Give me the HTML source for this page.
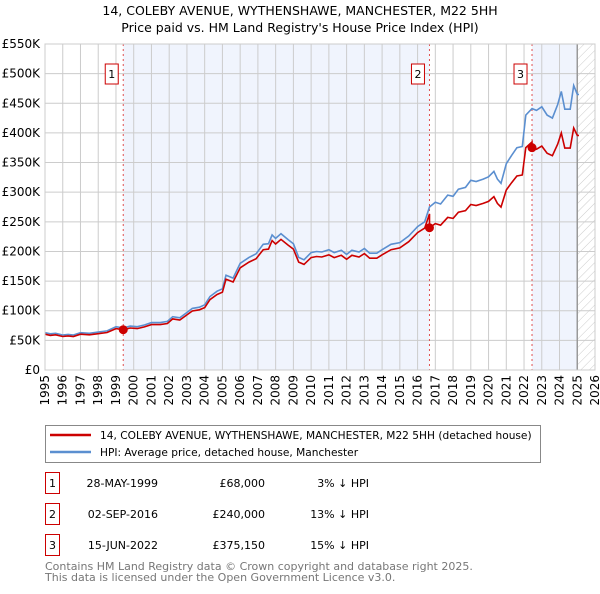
<!DOCTYPE html>
<html><head><meta charset="utf-8"><style>
body{margin:0;background:#fff;width:600px;height:590px;overflow:hidden;font-family:"DejaVu Sans","Liberation Sans",sans-serif}
svg text{font-family:"DejaVu Sans","Liberation Sans",sans-serif}
</style></head><body>
<svg id="chart" width="600" height="590">
<defs><pattern id="hatch" width="6" height="6" patternUnits="userSpaceOnUse" patternTransform="rotate(45)"><line x1="0" y1="0" x2="0" y2="6" stroke="#ccc" stroke-width="1"/></pattern></defs>
<text x="300" y="15" text-anchor="middle" font-size="12.5">14, COLEBY AVENUE, WYTHENSHAWE, MANCHESTER, M22 5HH</text>
<text x="300" y="32" text-anchor="middle" font-size="12.5">Price paid vs. HM Land Registry's House Price Index (HPI)</text>
<g id="plot"></g>
<g>
<rect x="45.5" y="425.5" width="495" height="37" fill="#fff" stroke="#888"/>
<line x1="50" y1="435" x2="91" y2="435" stroke="#cc0000" stroke-width="2.5"/>
<text x="100" y="439" font-size="10.6">14, COLEBY AVENUE, WYTHENSHAWE, MANCHESTER, M22 5HH (detached house)</text>
<line x1="50" y1="452" x2="91" y2="452" stroke="#5b8fd0" stroke-width="2.5"/>
<text x="100" y="456" font-size="10.6">HPI: Average price, detached house, Manchester</text>
</g>
<g id="table"></g>
<text x="45" y="570" font-size="11" fill="#777">Contains HM Land Registry data © Crown copyright and database right 2025.</text>
<text x="45" y="581" font-size="11" fill="#777">This data is licensed under the Open Government Licence v3.0.</text>
</svg>
<script>
const yTicks=[0,50,100,150,200,250,300,350,400,450,500,550];
const yTickLabels=["£0","£50K","£100K","£150K","£200K","£250K","£300K","£350K","£400K","£450K","£500K","£550K"];
const years=[1995,1996,1997,1998,1999,2000,2001,2002,2003,2004,2005,2006,2007,2008,2009,2010,2011,2012,2013,2014,2015,2016,2017,2018,2019,2020,2021,2022,2023,2024,2025,2026];
const hpiT=[1995,1995.3,1995.6,1996,1996.3,1996.6,1997,1997.5,1998,1998.5,1999,1999.41,1999.8,2000.2,2000.6,2001,2001.5,2001.9,2002.2,2002.6,2003,2003.3,2003.7,2004,2004.3,2004.7,2005,2005.2,2005.6,2006,2006.5,2006.9,2007.3,2007.6,2007.8,2008,2008.3,2008.7,2009,2009.3,2009.6,2010,2010.3,2010.6,2011,2011.3,2011.7,2012,2012.3,2012.7,2013,2013.3,2013.7,2014,2014.5,2015,2015.5,2016,2016.4,2016.67,2017,2017.3,2017.7,2018,2018.3,2018.7,2019,2019.3,2019.7,2020,2020.3,2020.5,2020.7,2021,2021.3,2021.6,2021.9,2022.1,2022.45,2022.7,2023,2023.3,2023.6,2023.9,2024.1,2024.3,2024.6,2024.8,2025,2025.1];
const hpiV=[63,61,62,59,60,59,63,62,64,66,73,71,74,73,76,80,80,82,90,88,97,104,106,110,124,133,137,160,155,180,190,196,212,213,228,222,230,220,213,190,186,198,200,199,203,198,202,195,202,199,205,197,197,203,212,215,226,242,250,275,283,280,295,293,305,308,320,318,322,326,335,322,315,348,362,375,377,430,441,438,444,430,425,448,470,440,440,480,465,465];
const saleT=[1999.41,2016.67,2022.45];
const saleP=[68,240,375.15];
const saleLabels=["1","2","3"];
const saleDates=["28-MAY-1999","02-SEP-2016","15-JUN-2022"];
const salePrices=["£68,000","£240,000","£375,150"];
const salePct=["3% ↓ HPI","13% ↓ HPI","15% ↓ HPI"];
const X0=45,X1=595,Y0=370,Y1=44;
const xs=t=>X0+(t-1995)/(2026-1995)*(X1-X0);
const ys=v=>Y0-v/550*(Y0-Y1);
const NS="http://www.w3.org/2000/svg";
const g=document.getElementById('plot');
function mk(tag,attrs,parent){const e=document.createElementNS(NS,tag);for(const k in attrs)e.setAttribute(k,attrs[k]);(parent||g).appendChild(e);return e;}
function hpiAt(t){for(let i=0;i<hpiT.length-1;i++){if(t>=hpiT[i]&&t<=hpiT[i+1]){return hpiV[i]+(hpiV[i+1]-hpiV[i])*(t-hpiT[i])/(hpiT[i+1]-hpiT[i]);}}return hpiV[hpiV.length-1];}
let r=mk('rect',{x:xs(saleT[0]),y:Y1,width:xs(saleT[1])-xs(saleT[0]),height:Y0-Y1,fill:'#f0f4fd'});


r=mk('rect',{x:xs(saleT[2]),y:Y1,width:xs(2025)-xs(saleT[2]),height:Y0-Y1,fill:'#f0f4fd'});


r=mk('rect',{x:xs(2025),y:Y1,width:X1-xs(2025),height:Y0-Y1,fill:'url(#hatch)'});


yTicks.forEach((v,i)=>{
 const l=mk('line',{x1:X0,x2:X1,y1:ys(v),y2:ys(v),stroke:'#ccc','stroke-width':1});
 
 
 const t=mk('text',{x:X0-5,y:ys(v)+4,'text-anchor':'end','font-size':12});
 t.textContent=yTickLabels[i];
 
 
});
years.forEach(y=>{
 const l=mk('line',{x1:xs(y),x2:xs(y),y1:Y1,y2:Y0,stroke:'#ccc','stroke-width':1});
 
 
 const t=mk('text',{x:0,y:0,'text-anchor':'end','font-size':12,transform:`translate(${xs(y)+4},375) rotate(-90)`});
 t.textContent=y;
 
 
});
let b=mk('line',{x1:xs(2025),x2:xs(2025),y1:Y1,y2:Y0,stroke:'#999','stroke-width':1.5});


saleT.forEach((s,i)=>{
 const l=mk('line',{x1:xs(s),x2:xs(s),y1:Y1,y2:Y0,stroke:'#e05050','stroke-width':1,'stroke-dasharray':'2,3'});
 
 
});
let d='';hpiT.forEach((t,i)=>{d+=(i?'L':'M')+xs(t).toFixed(1)+','+ys(hpiV[i]).toFixed(1);});
const hp=mk('path',{d:d,fill:'none',stroke:'#5b8fd0','stroke-width':1.6});


const ptsT=hpiT.concat(saleT).sort((a,b)=>a-b);
let d2='';
ptsT.forEach((t,i)=>{
 let k=0;for(let j=0;j<saleT.length;j++)if(t>=saleT[j])k=j;
 const v=saleP[k]*hpiAt(t)/hpiAt(saleT[k]);
 if(i>0&&saleT.includes(t)&&k>0){const pv=saleP[k-1]*hpiAt(t)/hpiAt(saleT[k-1]);d2+='L'+xs(t).toFixed(1)+','+ys(pv).toFixed(1);}
 d2+=(i?'L':'M')+xs(t).toFixed(1)+','+ys(v).toFixed(1);
});
const pp=mk('path',{d:d2,fill:'none',stroke:'#cc0000','stroke-width':1.6});


saleT.forEach((s,i)=>{
 const c=mk('circle',{cx:xs(s),cy:ys(saleP[i]),r:4.5,fill:'#cc0000'});
 
 
 const bx=mk('rect',{x:xs(s)-18,y:64,width:13,height:20,fill:'#fff',stroke:'#cc0000'});
 
 
 const tx=mk('text',{x:xs(s)-11.5,y:78,'text-anchor':'middle','font-size':11});
 tx.textContent=saleLabels[i];
 
 
});
const ax=mk('rect',{x:X0,y:Y1,width:X1-X0,height:Y0-Y1,fill:'none',stroke:'#ccc'});


const tb=document.getElementById('table');
[483,514,545].forEach((cy,i)=>{
 const bx=mk('rect',{x:45.5,y:cy-10.5,width:14,height:21,fill:'#fff',stroke:'#cc0000'},tb);
 
 
 const cells=[[52.5,'middle',saleLabels[i]],[158,'end',saleDates[i]],[265,'end',salePrices[i]],[369,'end',salePct[i]]];
 cells.forEach(c=>{const t=mk('text',{x:c[0],y:cy+4,'text-anchor':c[1],'font-size':11},tb);t.textContent=c[2];
 
 });
});
</script>
</body></html>
